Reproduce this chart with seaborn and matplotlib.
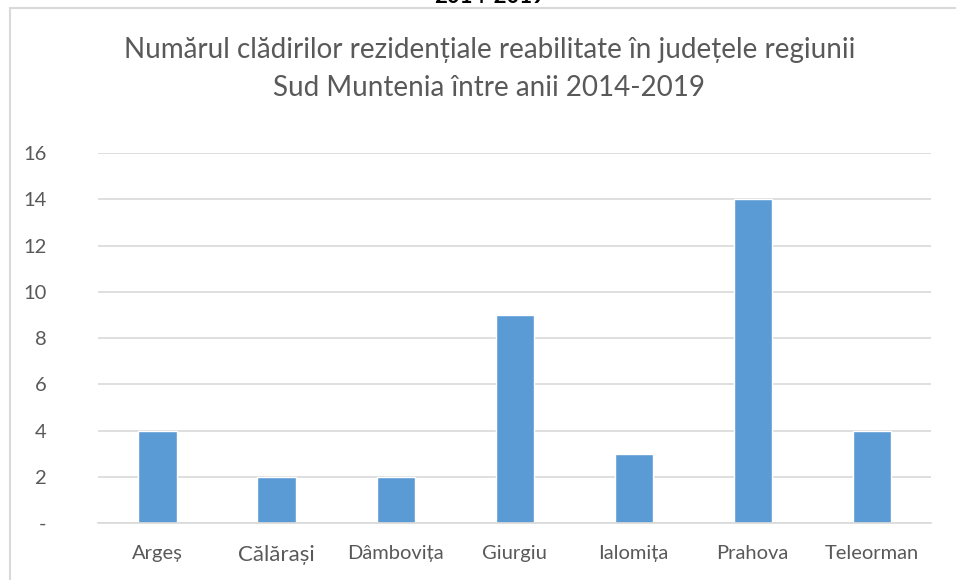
import matplotlib
matplotlib.use("Agg")
import matplotlib.pyplot as plt
import seaborn as sns
import pandas as pd
from matplotlib.patches import Rectangle

judete = ["Argeș", "Călărași", "Dâmbovița", "Giurgiu", "Ialomița", "Prahova", "Teleorman"]
cladiri = [4, 2, 2, 9, 3, 14, 4]
y_ticks = [0, 2, 4, 6, 8, 10, 12, 14, 16]
y_labels = ["-", "2", "4", "6", "8", "10", "12", "14", "16"]

df = pd.DataFrame({"judet": judete, "cladiri": cladiri})

sns.set_style("white")
plt.rcParams["font.family"] = ["Lato", "DejaVu Sans"]

fig = plt.figure(figsize=(9.56, 5.8), dpi=100)
ax = fig.add_axes([0.1025, 0.098, 0.8715, 0.638])

sns.barplot(data=df, x="judet", y="cladiri", color="#5B9BD5", width=0.32,
            saturation=1, ax=ax)

ax.set_ylim(0, 16)
ax.set_xlim(-0.5, len(judete) - 0.5)
ax.set_yticks(y_ticks)
ax.set_yticklabels(y_labels)
ax.yaxis.grid(True, color="#D9D9D9", linewidth=1.2)
ax.set_axisbelow(True)
for s in ["top", "right", "left"]:
    ax.spines[s].set_visible(False)
ax.spines["bottom"].set_color("#D9D9D9")
ax.spines["bottom"].set_linewidth(1.2)
ax.tick_params(axis="both", length=0, colors="#595959", labelsize=14.5)
ax.tick_params(axis="y", pad=37)
ax.tick_params(axis="x", pad=16)
ax.set_xlabel("")
ax.set_ylabel("")
ax.get_xticklabels()[1].set_fontsize(16)

fig.text(0.512, 0.914, "Numărul clădirilor rezidențiale reabilitate în județele regiunii",
         ha="center", va="center", fontsize=20, color="#595959")
fig.text(0.512, 0.849, "Sud Muntenia între anii 2014-2019",
         ha="center", va="center", fontsize=20, color="#595959")
# title of the page above, cut by the screenshot edge
fig.text(0.512, 1.006, "2014-2019", ha="center", va="center",
         fontsize=16, fontweight="bold", color="black")

# chart frame
fig.patches.append(Rectangle((0.0105, -0.1), 1.2, 1.086, transform=fig.transFigure,
                             fill=False, edgecolor="#D9D9D9", linewidth=1.5))

fig.savefig("out.png", dpi=100)
